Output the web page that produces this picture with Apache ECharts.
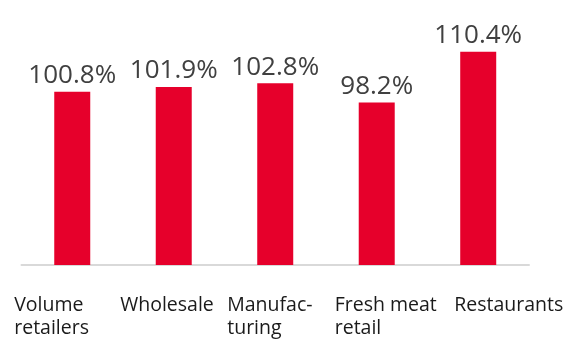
<!DOCTYPE html>
<html>
<head>
<meta charset="utf-8">
<script src="https://cdn.jsdelivr.net/npm/echarts@6/dist/echarts.min.js"></script>
<style>html,body{margin:0;padding:0;background:#fff}#c{width:566px;height:340px}</style>
</head>
<body>
<div id="c"></div>
<script>
var categories = ['Volume\nretailers', 'Wholesale', 'Manufac-\nturing', 'Fresh meat\nretail', 'Restaurants'];
var values = [100.8, 101.9, 102.8, 98.2, 110.4];
var labelBoxWidths = [116, 107, 96, 84, 48];

var rich = {};
labelBoxWidths.forEach(function (w, i) {
  rich['c' + i] = { width: w, align: 'left', fontFamily: 'Open Sans', fontSize: 19.5, lineHeight: 23, color: '#1a1a1a' };
});

var chart = echarts.init(document.getElementById('c'), null, { renderer: 'canvas' });
chart.setOption({
  animation: false,
  grid: { left: 21.5, right: 34.5, top: 12, bottom: 75 },
  xAxis: {
    type: 'category',
    data: categories,
    axisLine: { show: true, lineStyle: { color: '#d9d9d9', width: 2 } },
    axisTick: { show: false },
    axisLabel: {
      interval: 0,
      margin: 29,
      align: 'center',
      formatter: function (v, i) { return '{c' + i + '|' + v + '}'; },
      rich: rich
    }
  },
  yAxis: {
    type: 'value', min: 59, max: 120, show: false,
    splitLine: { show: false }
  },
  series: [{
    type: 'bar',
    data: values,
    barWidth: 36,
    itemStyle: { color: '#E6002B' },
    label: {
      show: true, position: 'top', distance: 3,
      formatter: function (p) { return p.value.toFixed(1) + '%'; },
      fontFamily: 'Open Sans', fontSize: 26, color: '#404040'
    }
  }]
});
</script>
</body>
</html>
